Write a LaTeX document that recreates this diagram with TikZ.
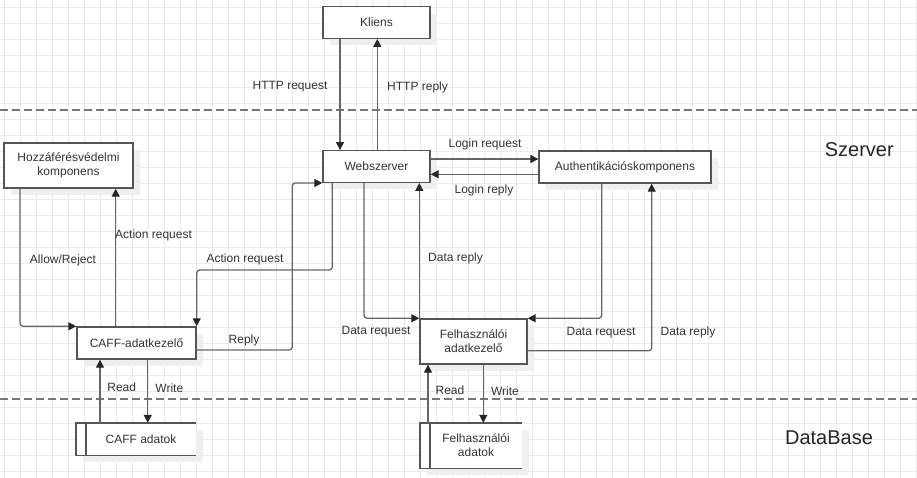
\documentclass[tikz,border=0pt]{standalone}
\usepackage{fontspec}
\setmainfont{Liberation Sans}
\usetikzlibrary{arrows.meta,shadows}
\definecolor{gridc}{HTML}{EBEBEB}
\definecolor{linec}{HTML}{666666}
\definecolor{boxc}{HTML}{555555}
\definecolor{txtc}{HTML}{333333}
\definecolor{shadc}{HTML}{EFEFEF}
\definecolor{dashc}{HTML}{777777}
\tikzset{
  gridline/.style={draw=gridc, line width=0.9pt},
  box/.style={draw=boxc, line width=1.4pt, fill=white, text=txtc, align=center,
    font=\fontsize{12}{14}\selectfont, inner sep=0pt,
    general shadow={fill=shadc, shadow xshift=7pt, shadow yshift=-7pt}},
  store/.style={fill=white, text=txtc, align=center,
    font=\fontsize{12}{14}\selectfont, inner sep=0pt,
    general shadow={fill=shadc, shadow xshift=7pt, shadow yshift=-7pt}},
  storeline/.style={draw=boxc, line width=1.4pt},
  conn/.style={draw=linec, line width=1.3pt, rounded corners=3pt,
    -{Triangle[length=8pt,width=8pt,fill=black!85,color=black!85]}},
  lbl/.style={text=txtc, font=\fontsize{12}{14}\selectfont, inner sep=0pt},
  zone/.style={text=black!85, font=\fontsize{20}{24}\selectfont, inner sep=0pt},
  sep/.style={draw=dashc, line width=1.8pt, dash pattern=on 8pt off 4pt},
}
\begin{document}
\begin{tikzpicture}[x=1pt,y=-1pt]
\useasboundingbox (0,0) rectangle (917,478);
\fill[white] (0,0) rectangle (917,478);
% grid
\foreach \gx in {4,20,...,916} {\draw[gridline] (\gx,0) -- (\gx,478);}
\foreach \gy in {7.3,23.3,...,478} {\draw[gridline] (0,\gy) -- (917,\gy);}
% separators
\draw[sep] (0,110) -- (917,110);
\draw[sep] (0,398.7) -- (917,398.7);
% zone labels
\node[zone] (szerver) at (859.3,149.3) {Szerver};
\node[zone] (database) at (829,437.7) {DataBase};
% boxes
\node[box, minimum width=107pt, minimum height=31.5pt] (kl) at (376.5,22.5) {Kliens};
\node[box, minimum width=107pt, minimum height=31.5pt] (ws) at (376.5,166.5) {Webszerver};
\node[box, minimum width=172pt, minimum height=32pt] (au) at (625,167) {Authentikációskomponens};
\node[box, minimum width=129pt, minimum height=45pt] (hz) at (68.5,165.5) {Hozzáférésvédelmi\\komponens};
\node[box, minimum width=119pt, minimum height=32pt] (caff) at (136.5,343) {CAFF-adatkezelő};
\node[box, minimum width=107pt, minimum height=45pt] (fa) at (473.5,341.5) {Felhasználói\\adatkezelő};
\node[store, minimum width=120pt, minimum height=32pt] (cad) at (136,439) {\hspace{10pt}CAFF adatok};
\node[store, minimum width=102pt, minimum height=45pt] (fad) at (471,445.5) {\hspace{10pt}Felhasználói\\\hspace{10pt}adatok};
\draw[storeline] (cad.north east) -- (cad.north west) -- (cad.south west) -- (cad.south east);
\draw[storeline] ([xshift=10pt]cad.north west) -- ([xshift=10pt]cad.south west);
\draw[storeline] (fad.north east) -- (fad.north west) -- (fad.south west) -- (fad.south east);
\draw[storeline] ([xshift=10pt]fad.north west) -- ([xshift=10pt]fad.south west);
% x/y helper coordinates
\coordinate (x340) at (340,0);
\coordinate (x377) at (377.3,0);
\coordinate (y159) at (0,159);
\coordinate (y174) at (0,174.3);
\coordinate (x20) at (20,0);
\coordinate (x116) at (115.7,0);
\coordinate (x332) at (332.3,0);
\coordinate (y270) at (0,270);
\coordinate (y350) at (0,350);
\coordinate (x292) at (292.3,0);
\coordinate (x364) at (364,0);
\coordinate (x602) at (601.7,0);
\coordinate (y351) at (0,350.7);
\coordinate (x652) at (651.7,0);
\coordinate (x100) at (100,0);
\coordinate (x148) at (147.7,0);
\coordinate (x428) at (428,0);
\coordinate (x483) at (483.3,0);
% connectors
\draw[conn] (kl.south -| x340) -- (ws.north -| x340);
\draw[conn] (ws.north -| x377) -- (kl.south -| x377);
\draw[conn] (ws.east |- y159) -- (au.west |- y159);
\draw[conn] (au.west |- y174) -- (ws.east |- y174);
\draw[conn] (hz.south -| x20) |- (caff.north west);
\draw[conn] (caff.north -| x116) -- (hz.south -| x116);
\draw[conn] (ws.south -| x332) -- (x332 |- y270) -| (caff.north east);
\draw[conn] (caff.east |- y350) -- (x292 |- y350) -- (x292 |- ws.south) -- (ws.south west);
\draw[conn] (ws.south -| x364) |- (fa.north west);
\draw[conn] (fa.north west) -- (ws.south -| fa.west);
\draw[conn] (au.south -| x602) |- (fa.north east);
\draw[conn] (fa.east |- y351) -| (au.south -| x652);
\draw[conn] (cad.north -| x100) -- (caff.south -| x100);
\draw[conn] (caff.south -| x148) -- (cad.north -| x148);
\draw[conn] (fad.north -| x428) -- (fa.south -| x428);
\draw[conn] (fa.south -| x483) -- (fad.north -| x483);
% labels
\node[lbl] (l1) at (290,87) {HTTP request};
\node[lbl, anchor=west] (l2) at (387,87) {HTTP reply};
\node[lbl] (l3) at (485,144) {Login request};
\node[lbl] (l4) at (484,190) {Login reply};
\node[lbl] (l5) at (63,260) {Allow/Reject};
\node[lbl, anchor=west] (l6) at (115,235.7) {Action request};
\node[lbl] (l7) at (245,259) {Action request};
\node[lbl] (l8) at (244,340.7) {Reply};
\node[lbl] (l9) at (376,331.7) {Data request};
\node[lbl, anchor=west] (l10) at (428,258) {Data reply};
\node[lbl] (l11) at (601,333) {Data request};
\node[lbl] (l12) at (688,332) {Data reply};
\node[lbl] (l13) at (121.7,387.7) {Read};
\node[lbl] (l14) at (169.3,388.3) {Write};
\node[lbl] (l15) at (450,390) {Read};
\node[lbl] (l16) at (505,391) {Write};
\end{tikzpicture}
\end{document}
